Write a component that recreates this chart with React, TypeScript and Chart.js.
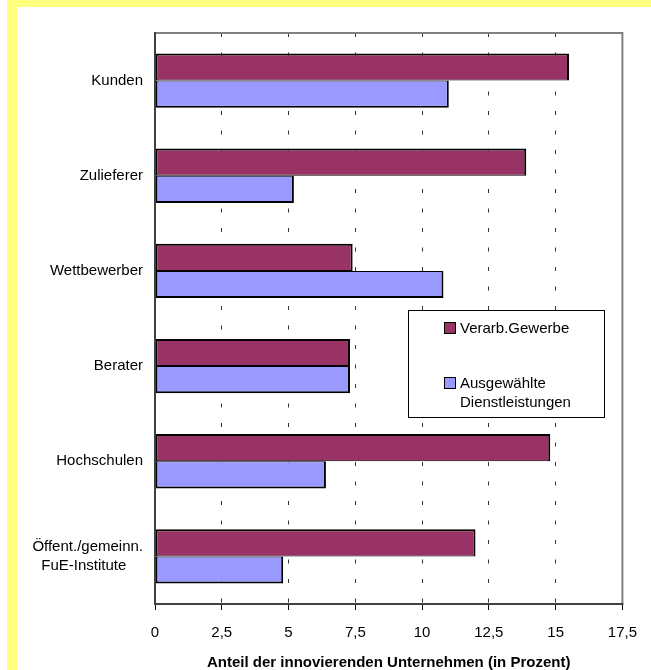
import React, { useEffect, useRef } from 'react';
import { Chart, registerables } from 'chart.js';

Chart.register(...registerables);

// ---- data ----
const categories: (string | string[])[] = [
  'Kunden',
  'Zulieferer',
  'Wettbewerber',
  'Berater',
  'Hochschulen',
  ['Öffent./gemeinn.', 'FuE-Institute    '],
];
const verarbGewerbe = [15.5, 13.9, 7.4, 7.3, 14.8, 12.0];
const dienstleistungen = [11.0, 5.2, 10.8, 7.3, 6.4, 4.8];
const seriesNames = ['Verarb.Gewerbe', 'Ausgewählte\nDienstleistungen'];
const seriesColors = ['#993366', '#9999FF'];
const xMin = 0;
const xMax = 17.5;
const xStep = 2.5;
const xTitle = 'Anteil der innovierenden Unternehmen (in Prozent)';

const FONT = "'Liberation Sans', Arial, sans-serif";
const FS = 15;

const framePlugin = {
  id: 'frame',
  afterDatasetsDraw(chart: any) {
    const { ctx, chartArea } = chart;
    const { left, right, top, bottom } = chartArea;
    ctx.save();
    ctx.lineWidth = 2;
    ctx.strokeStyle = '#808080';
    ctx.beginPath();
    ctx.moveTo(left, top);
    ctx.lineTo(right, top);
    ctx.lineTo(right, bottom);
    ctx.stroke();
    ctx.strokeStyle = '#404040';
    ctx.beginPath();
    ctx.moveTo(left, top - 1);
    ctx.lineTo(left, bottom);
    ctx.lineTo(right + 1, bottom);
    ctx.stroke();
    ctx.restore();
  },
};

const boxLegendPlugin = {
  id: 'boxLegend',
  afterDraw(chart: any) {
    const { ctx, chartArea } = chart;
    const x = chartArea.left + 253;
    const y = chartArea.top + 277;
    const w = 197;
    const h = 108;
    const rows = [18, 73];
    ctx.save();
    ctx.fillStyle = '#ffffff';
    ctx.fillRect(x, y, w, h);
    ctx.strokeStyle = '#000000';
    ctx.lineWidth = 1;
    ctx.strokeRect(x + 0.5, y + 0.5, w - 1, h - 1);
    ctx.font = `${FS}px ${FONT}`;
    ctx.textBaseline = 'middle';
    ctx.textAlign = 'left';
    chart.data.datasets.forEach((ds: any, i: number) => {
      const cy = Math.round(y + rows[i]);
      ctx.fillStyle = ds.backgroundColor;
      ctx.fillRect(x + 36, cy - 6, 12, 12);
      ctx.strokeStyle = '#000000';
      ctx.strokeRect(x + 36.5, cy - 5.5, 11, 11);
      ctx.fillStyle = '#000000';
      String(ds.label)
        .split('\n')
        .forEach((line: string, j: number) => ctx.fillText(line, x + 52, cy + 1 + j * 19));
    });
    ctx.restore();
  },
};

export default function App() {
  const canvasRef = useRef<HTMLCanvasElement | null>(null);

  useEffect(() => {
    const canvas = canvasRef.current;
    if (!canvas) return;
    const chart = new Chart(canvas, {
      type: 'bar',
      data: {
        labels: categories as any,
        datasets: [
          {
            label: seriesNames[0],
            data: verarbGewerbe,
            backgroundColor: seriesColors[0],
            borderColor: '#000000',
            borderWidth: { top: 2, right: 2, bottom: 1, left: 2 } as any,
            borderSkipped: false,
          },
          {
            label: seriesNames[1],
            data: dienstleistungen,
            backgroundColor: seriesColors[1],
            borderColor: '#000000',
            borderWidth: { top: 1, right: 2, bottom: 2, left: 2 } as any,
            borderSkipped: false,
          },
        ],
      },
      options: {
        indexAxis: 'y',
        responsive: false,
        animation: false,
        devicePixelRatio: 1,
        datasets: { bar: { categoryPercentage: 0.5714, barPercentage: 1 } },
        layout: { padding: { top: 33, right: 26, bottom: 0, left: 0 } },
        plugins: {
          legend: { display: false },
          tooltip: { enabled: false },
        },
        scales: {
          x: {
            type: 'linear',
            position: 'bottom',
            min: xMin,
            max: xMax,
            ticks: {
              stepSize: xStep,
              color: '#000000',
              font: { family: FONT, size: FS },
              padding: 14,
              maxRotation: 0,
              autoSkip: false,
              callback: (v: any) => String(v).replace('.', ','),
            },
            grid: {
              color: '#333333',
              lineWidth: 1,
              drawTicks: true,
              tickLength: 6,
              tickColor: '#000000',
              tickWidth: 1,
              tickBorderDash: [],
            },
            border: { display: false, dash: [4, 15.5] },
            title: {
              display: true,
              text: xTitle,
              color: '#000000',
              font: { family: FONT, size: FS, weight: 'bold', lineHeight: 1 },
              padding: 0,
            },
            afterFit: (s: any) => {
              s.height = 66;
            },
          } as any,
          y: {
            type: 'category',
            position: 'left',
            ticks: {
              color: '#000000',
              font: { family: FONT, size: FS, lineHeight: 1.27 },
              padding: 12,
              autoSkip: false,
            },
            grid: { display: false, drawTicks: false },
            border: { display: false },
            afterFit: (s: any) => {
              s.width = 155;
            },
          } as any,
        },
      },
      plugins: [framePlugin, boxLegendPlugin],
    });
    return () => chart.destroy();
  }, []);

  return (
    <div
      style={{
        position: 'fixed',
        left: 0,
        top: 0,
        width: 651,
        height: 670,
        background: '#ffffff',
        overflow: 'hidden',
      }}
    >
      <div style={{ position: 'absolute', left: 7, top: 0, width: 644, height: 7, background: '#ffff80' }} />
      <div style={{ position: 'absolute', left: 7, top: 0, width: 10, height: 670, background: '#ffff80' }} />
      <canvas
        ref={canvasRef}
        width={651}
        height={670}
        style={{ position: 'absolute', left: 0, top: 0, width: 651, height: 670, display: 'block' }}
      />
    </div>
  );
}
